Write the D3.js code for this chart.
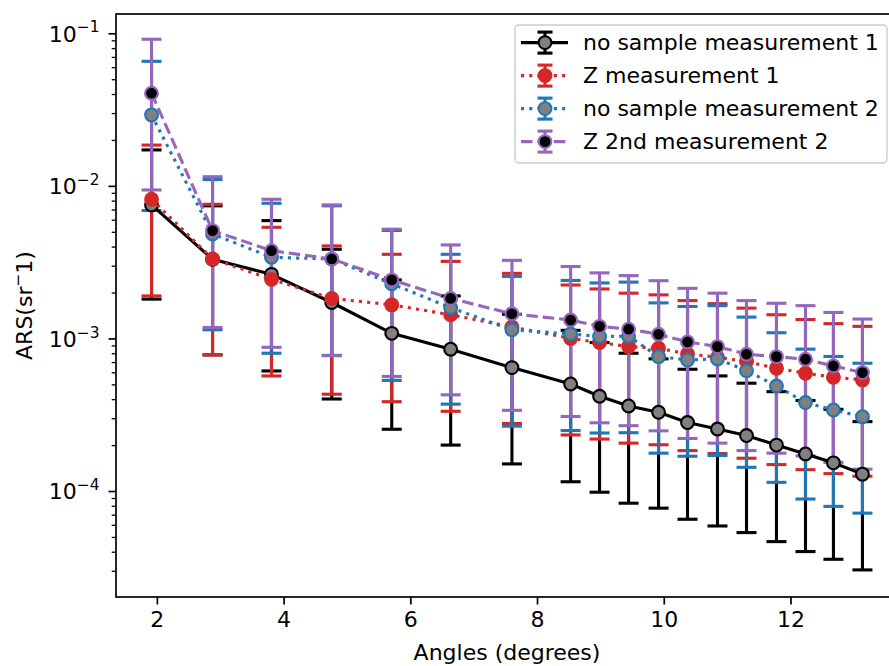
<!DOCTYPE html>
<html>
<head>
<meta charset="utf-8">
<script src="https://cdn.jsdelivr.net/npm/d3@7"></script>
<style>
  html, body { margin: 0; padding: 0; background: #fff; }
  svg text { font-family: "DejaVu Sans", sans-serif; fill: #000; }
</style>
</head>
<body>
<svg id="chart" width="889" height="666"></svg>
<script>
// scattering angles (degrees)
const angles = [1.916, 2.879, 3.809, 4.760, 5.707, 6.637, 7.604, 8.530, 8.987,
                9.445, 9.918, 10.375, 10.848, 11.306, 11.779, 12.237, 12.678, 13.136];

const seriesNames = ["no sample measurement 1", "Z measurement 1",
                     "no sample measurement 2", "Z 2nd measurement 2"];

// ARS values, lower and upper error-bar ends (sr^-1)
const noSample1   = [7.50e-3, 3.30e-3, 2.63e-3, 1.72e-3, 1.08e-3, 8.50e-4, 6.44e-4, 5.03e-4, 4.18e-4,
                     3.61e-4, 3.28e-4, 2.81e-4, 2.55e-4, 2.31e-4, 2.00e-4, 1.75e-4, 1.53e-4, 1.29e-4];
const noSample1Lo = [1.81e-3, 7.80e-4, 6.12e-4, 4.01e-4, 2.54e-4, 2.00e-4, 1.505e-4, 1.15e-4, 9.82e-5,
                     8.32e-5, 7.72e-5, 6.53e-5, 5.90e-5, 5.34e-5, 4.66e-5, 4.01e-5, 3.57e-5, 3.04e-5];
const noSample1Hi = [1.72e-2, 7.40e-3, 5.92e-3, 3.84e-3, 2.42e-3, 1.90e-3, 1.44e-3, 1.13e-3, 9.40e-4,
                     8.00e-4, 7.35e-4, 6.28e-4, 5.68e-4, 5.09e-4, 4.48e-4, 3.92e-4, 3.43e-4, 2.85e-4];

const zMeas1   = [8.17e-3, 3.32e-3, 2.44e-3, 1.83e-3, 1.66e-3, 1.43e-3, 1.19e-3, 1.00e-3, 9.41e-4,
                  8.84e-4, 8.63e-4, 7.91e-4, 7.53e-4, 7.05e-4, 6.38e-4, 5.92e-4, 5.57e-4, 5.35e-4];
const zMeas1Lo = [1.90e-3, 7.80e-4, 5.68e-4, 4.31e-4, 3.85e-4, 3.33e-4, 2.77e-4, 2.33e-4, 2.19e-4,
                  2.06e-4, 2.01e-4, 1.84e-4, 1.76e-4, 1.64e-4, 1.49e-4, 1.38e-4, 1.30e-4, 1.25e-4];
const zMeas1Hi = [1.85e-2, 7.57e-3, 5.35e-3, 4.04e-3, 3.56e-3, 3.20e-3, 2.67e-3, 2.24e-3, 2.11e-3,
                  1.98e-3, 1.93e-3, 1.77e-3, 1.69e-3, 1.58e-3, 1.43e-3, 1.33e-3, 1.25e-3, 1.20e-3];

const noSample2   = [2.92e-2, 4.84e-3, 3.40e-3, 3.32e-3, 2.28e-3, 1.59e-3, 1.14e-3, 1.07e-3, 1.03e-3,
                     1.035e-3, 7.60e-4, 7.23e-4, 7.34e-4, 6.15e-4, 4.88e-4, 3.80e-4, 3.40e-4, 3.07e-4];
const noSample2Lo = [6.89e-3, 1.14e-3, 8.00e-4, 7.74e-4, 5.31e-4, 3.71e-4, 2.66e-4, 2.49e-4, 2.40e-4,
                     2.41e-4, 1.77e-4, 1.69e-4, 1.71e-4, 1.43e-4, 1.14e-4, 8.86e-5, 7.93e-5, 7.16e-5];
const noSample2Hi = [6.55e-2, 1.10e-2, 7.69e-3, 7.40e-3, 5.10e-3, 3.56e-3, 2.55e-3, 2.40e-3, 2.31e-3,
                     2.34e-3, 1.71e-3, 1.62e-3, 1.64e-3, 1.38e-3, 1.09e-3, 8.51e-4, 7.62e-4, 6.88e-4];

const zMeas2   = [4.05e-2, 5.09e-3, 3.76e-3, 3.32e-3, 2.42e-3, 1.83e-3, 1.45e-3, 1.32e-3, 1.20e-3,
                  1.15e-3, 1.065e-3, 9.49e-4, 8.84e-4, 7.88e-4, 7.60e-4, 7.31e-4, 6.60e-4, 5.97e-4];
const zMeas2Lo = [9.40e-3, 1.18e-3, 8.75e-4, 7.71e-4, 5.64e-4, 4.27e-4, 3.38e-4, 3.08e-4, 2.80e-4,
                  2.68e-4, 2.48e-4, 2.21e-4, 2.06e-4, 1.84e-4, 1.77e-4, 1.70e-4, 1.54e-4, 1.39e-4];
const zMeas2Hi = [9.14e-2, 1.148e-2, 8.17e-3, 7.50e-3, 5.20e-3, 4.10e-3, 3.25e-3, 2.96e-3, 2.69e-3,
                  2.58e-3, 2.39e-3, 2.13e-3, 1.98e-3, 1.77e-3, 1.70e-3, 1.64e-3, 1.48e-3, 1.34e-3];

const xTicks = [2, 4, 6, 8, 10, 12];
const yMajor = [1e-1, 1e-2, 1e-3, 1e-4];

// styles (matplotlib tab colours, scaled line widths)
const LW = 3.1;
const series = [
  { name: seriesNames[0], v: noSample1, lo: noSample1Lo, hi: noSample1Hi,
    color: "#000000", dash: null, fill: "#808080" },
  { name: seriesNames[1], v: zMeas1, lo: zMeas1Lo, hi: zMeas1Hi,
    color: "#d62728", dash: `${LW} ${LW * 1.65}`, fill: "#d62728" },
  { name: seriesNames[2], v: noSample2, lo: noSample2Lo, hi: noSample2Hi,
    color: "#1f77b4", dash: `${LW} ${LW * 1.65}`, fill: "#808080" },
  { name: seriesNames[3], v: zMeas2, lo: zMeas2Lo, hi: zMeas2Hi,
    color: "#9467bd", dash: `${LW * 3.7} ${LW * 1.6}`, fill: "#000000" },
];

const FS = 22;
const plotLeft = 116, plotRight = 898, plotTop = 14, plotBottom = 597;

const svg = d3.select("#chart");

const x = d3.scaleLinear().domain([1.355, 13.697]).range([plotLeft, plotRight]);
const y = d3.scaleLog().domain([2.02e-5, 0.1338]).range([plotBottom, plotTop]);

svg.append("defs").append("clipPath").attr("id", "plot-clip")
  .append("rect").attr("x", plotLeft).attr("y", plotTop)
  .attr("width", plotRight - plotLeft).attr("height", plotBottom - plotTop);

const plot = svg.append("g").attr("clip-path", "url(#plot-clip)");

// error bars first (matplotlib puts the data lines above all bars)
const CAP = 10;
series.forEach(s => {
  const g = plot.append("g").attr("class", "errbars");
  angles.forEach((a, i) => {
    g.append("line")
      .attr("x1", x(a)).attr("x2", x(a))
      .attr("y1", y(s.lo[i])).attr("y2", y(s.hi[i]))
      .attr("stroke", s.color).attr("stroke-width", LW);
    [s.lo[i], s.hi[i]].forEach(val => {
      g.append("line")
        .attr("x1", x(a) - CAP).attr("x2", x(a) + CAP)
        .attr("y1", y(val)).attr("y2", y(val))
        .attr("stroke", s.color).attr("stroke-width", LW);
    });
  });
});

// data lines + markers
const line = d3.line().x((d, i) => x(angles[i])).y(d => y(d));
series.forEach(s => {
  plot.append("path")
    .attr("d", line(s.v))
    .attr("fill", "none")
    .attr("stroke", s.color)
    .attr("stroke-width", LW)
    .attr("stroke-dasharray", s.dash);
  plot.append("g").selectAll("circle").data(s.v).join("circle")
    .attr("cx", (d, i) => x(angles[i]))
    .attr("cy", d => y(d))
    .attr("r", 6.4)
    .attr("fill", s.fill)
    .attr("stroke", s.color)
    .attr("stroke-width", 2.1);
});

// axes
const xAxis = svg.append("g").attr("transform", `translate(0,${plotBottom})`)
  .call(d3.axisBottom(x).tickValues(xTicks).tickSize(7.5).tickSizeOuter(0).tickPadding(7)
    .tickFormat(d3.format("d")));
xAxis.select(".domain").remove();
xAxis.selectAll("line").attr("stroke-width", 1.7);
xAxis.selectAll("text").attr("font-size", FS).attr("dy", "0.72em");

const yMinor = [];
for (let e = -5; e <= -1; e++) {
  for (let m = 2; m <= 9; m++) {
    const v = m * Math.pow(10, e);
    if (v >= y.domain()[0] && v <= y.domain()[1]) yMinor.push(v);
  }
}
const yMinorAxis = svg.append("g").attr("transform", `translate(${plotLeft},0)`)
  .call(d3.axisLeft(y).tickValues(yMinor).tickSize(4.3).tickSizeOuter(0).tickFormat(""));
yMinorAxis.select(".domain").remove();
yMinorAxis.selectAll("line").attr("stroke-width", 1.3);

const yAxis = svg.append("g").attr("transform", `translate(${plotLeft},0)`)
  .call(d3.axisLeft(y).tickValues(yMajor).tickSize(7.5).tickSizeOuter(0).tickPadding(9)
    .tickFormat(""));
yAxis.select(".domain").remove();
yAxis.selectAll("line").attr("stroke-width", 1.7);
yAxis.selectAll(".tick text").each(function (d) {
  const t = d3.select(this).attr("font-size", FS).attr("dy", "0.36em");
  t.text("");
  t.append("tspan").text("10");
  t.append("tspan").attr("font-size", FS * 0.7).attr("dy", -FS * 0.42)
    .text("\u2212" + Math.round(-Math.log10(d)));
});

// spines
svg.append("rect")
  .attr("x", plotLeft).attr("y", plotTop)
  .attr("width", plotRight - plotLeft).attr("height", plotBottom - plotTop)
  .attr("fill", "none").attr("stroke", "#000").attr("stroke-width", 1.7);

// axis labels
svg.append("text")
  .attr("x", (plotLeft + plotRight) / 2).attr("y", 660)
  .attr("text-anchor", "middle").attr("font-size", FS)
  .text("Angles (degrees)");

const yl = svg.append("text")
  .attr("transform", `translate(32,${(plotTop + plotBottom) / 2}) rotate(-90)`)
  .attr("text-anchor", "middle").attr("font-size", FS);
yl.append("tspan").text("ARS(sr");
yl.append("tspan").attr("font-size", FS * 0.7).attr("dy", -FS * 0.42).text("\u2212");
yl.append("tspan").attr("dy", FS * 0.42).text("1)");

// legend
const legend = svg.append("g");
legend.append("rect")
  .attr("x", 515).attr("y", 25).attr("width", 372).attr("height", 138)
  .attr("rx", 4).attr("fill", "#fff").attr("fill-opacity", 0.8)
  .attr("stroke", "#cccccc").attr("stroke-width", 1.4);
const rowY = [42.6, 75.6, 108.6, 141.6];
series.forEach((s, i) => {
  const cy = rowY[i];
  const g = legend.append("g");
  g.append("line").attr("x1", 521).attr("x2", 568).attr("y1", cy).attr("y2", cy)
    .attr("stroke", s.color).attr("stroke-width", LW).attr("stroke-dasharray", s.dash);
  g.append("line").attr("x1", 545).attr("x2", 545).attr("y1", cy - 10.5).attr("y2", cy + 10.5)
    .attr("stroke", s.color).attr("stroke-width", LW);
  [cy - 10.5, cy + 10.5].forEach(yy => {
    g.append("line").attr("x1", 537.5).attr("x2", 552.5).attr("y1", yy).attr("y2", yy)
      .attr("stroke", s.color).attr("stroke-width", LW);
  });
  g.append("circle").attr("cx", 545).attr("cy", cy).attr("r", 6.4)
    .attr("fill", s.fill).attr("stroke", s.color).attr("stroke-width", 2.1);
  g.append("text").attr("x", 583).attr("y", cy + 7.8).attr("font-size", FS).text(s.name);
});
</script>
</body>
</html>
